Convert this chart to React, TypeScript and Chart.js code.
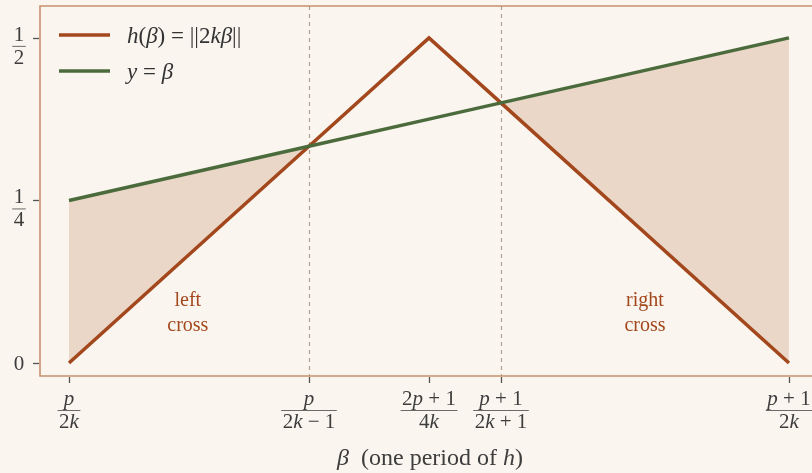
import { useEffect, useRef } from "react";
import { Chart, registerables } from "chart.js";

Chart.register(...registerables);

// β positions (one period normalised to [0, 1]) where the curves have vertices or cross
const BETA = [0, 0.3333, 0.5, 0.6, 1];
// h(β) = ||2kβ|| : tent rising to 1/2 at the midpoint
const H_VALUES = [0, 0.3333, 0.5, 0.4, 0];
// y = β over the same period
const Y_VALUES = [0.25, 0.3333, 0.375, 0.4, 0.5];

// where the two curves cross (dashed guides)
const CROSS_BETA = [0.3333, 0.6];

// x tick positions and their fraction labels
const X_TICKS = [0, 0.3333, 0.5, 0.6, 1];
const X_TICK_NUM = ["p", "p", "2p+1", "p+1", "p+1"];
const X_TICK_DEN = ["2k", "2k−1", "4k", "2k+1", "2k"];

// y tick positions and labels
const Y_TICKS = [0, 0.25, 0.5];
const Y_TICK_NUM = ["0", "1", "1"];
const Y_TICK_DEN = ["", "4", "2"];

const C_BG = "#faf5ef";
const C_RED = "#a3471d";
const C_GREEN = "#4b6b3c";
const C_FILL = "#ead7c8";
const C_FRAME = "#c8916d";
const C_GUIDE = "#b09e8e";
const C_TEXT = "#3d3d3d";
const SERIF = '"Liberation Serif", "DejaVu Serif", serif';

type Part = [string, boolean];

function parse(s: string): Part[] {
  const parts: Part[] = [];
  for (const ch of s) {
    if (/[a-zβ]/.test(ch)) parts.push([ch, true]);
    else if (ch === "+" || ch === "−" || ch === "=") parts.push([" " + ch + " ", false]);
    else parts.push([ch, false]);
  }
  return parts;
}

function font(size: number, italic: boolean) {
  return `${italic ? "italic " : ""}${size}px ${SERIF}`;
}

function widthOf(ctx: CanvasRenderingContext2D, parts: Part[], size: number) {
  let w = 0;
  for (const [t, it] of parts) {
    ctx.font = font(size, it);
    w += ctx.measureText(t).width;
  }
  return w;
}

function drawParts(ctx: CanvasRenderingContext2D, parts: Part[], x: number, y: number, size: number, color: string) {
  ctx.fillStyle = color;
  ctx.textAlign = "left";
  ctx.textBaseline = "alphabetic";
  let cx = x;
  for (const [t, it] of parts) {
    ctx.font = font(size, it);
    ctx.fillText(t, cx, y);
    cx += ctx.measureText(t).width;
  }
  return cx;
}

function drawCentered(ctx: CanvasRenderingContext2D, parts: Part[], cx: number, y: number, size: number, color: string) {
  const w = widthOf(ctx, parts, size);
  drawParts(ctx, parts, cx - w / 2, y, size, color);
}

function drawFrac(ctx: CanvasRenderingContext2D, num: string, den: string, cx: number, barY: number, size: number) {
  const n = parse(num);
  const d = parse(den);
  const w = Math.max(widthOf(ctx, n, size), widthOf(ctx, d, size)) + 3;
  drawCentered(ctx, n, cx, barY - 5, size, C_TEXT);
  drawCentered(ctx, d, cx, barY + 18, size, C_TEXT);
  ctx.strokeStyle = "#6a6a6a";
  ctx.lineWidth = 1;
  ctx.beginPath();
  ctx.moveTo(cx - w / 2, barY + 0.5);
  ctx.lineTo(cx + w / 2, barY + 0.5);
  ctx.stroke();
}

const decor = {
  id: "decor",
  beforeDraw(chart: any) {
    const ctx = chart.ctx as CanvasRenderingContext2D;
    ctx.save();
    ctx.fillStyle = C_BG;
    ctx.fillRect(0, 0, chart.width, chart.height);
    ctx.restore();
  },
  beforeDatasetsDraw(chart: any) {
    const ctx = chart.ctx as CanvasRenderingContext2D;
    const { top, bottom } = chart.chartArea;
    const xs = chart.scales.x;
    ctx.save();
    ctx.strokeStyle = C_GUIDE;
    ctx.lineWidth = 1.2;
    ctx.setLineDash([4, 4]);
    for (const b of CROSS_BETA) {
      const px = Math.round(xs.getPixelForValue(b)) + 0.5;
      ctx.beginPath();
      ctx.moveTo(px, top);
      ctx.lineTo(px, bottom);
      ctx.stroke();
    }
    ctx.restore();
  },
  afterDraw(chart: any) {
    const ctx = chart.ctx as CanvasRenderingContext2D;
    const { left, top, right, bottom } = chart.chartArea;
    const xs = chart.scales.x;
    const ys = chart.scales.y;
    ctx.save();

    // frame: left, top and bottom spines
    ctx.strokeStyle = C_FRAME;
    ctx.lineWidth = 1.6;
    ctx.beginPath();
    ctx.moveTo(right, top);
    ctx.lineTo(left, top);
    ctx.lineTo(left, bottom);
    ctx.lineTo(right, bottom);
    ctx.stroke();

    // tick marks
    ctx.strokeStyle = "#555";
    ctx.lineWidth = 1.3;
    for (const v of X_TICKS) {
      const px = Math.round(xs.getPixelForValue(v)) + 0.5;
      ctx.beginPath();
      ctx.moveTo(px, bottom + 1);
      ctx.lineTo(px, bottom + 7);
      ctx.stroke();
    }
    for (const v of Y_TICKS) {
      const py = Math.round(ys.getPixelForValue(v)) + 0.5;
      ctx.beginPath();
      ctx.moveTo(left - 7, py);
      ctx.lineTo(left - 1, py);
      ctx.stroke();
    }

    // x tick labels
    X_TICKS.forEach((v, i) => {
      const px = xs.getPixelForValue(v);
      drawFrac(ctx, X_TICK_NUM[i], X_TICK_DEN[i], px, bottom + 34, 21);
    });

    // y tick labels
    Y_TICKS.forEach((v, i) => {
      const py = ys.getPixelForValue(v);
      if (Y_TICK_DEN[i]) {
        drawFrac(ctx, Y_TICK_NUM[i], Y_TICK_DEN[i], 19, py + 8, 21);
      } else {
        drawCentered(ctx, parse(Y_TICK_NUM[i]), 19, py + 7, 21, C_TEXT);
      }
    });

    // x axis title
    drawCentered(
      ctx,
      [["β", true], ["  (one period of ", false], ["h", true], [")", false]],
      430,
      465,
      24,
      C_TEXT
    );

    // legend
    ctx.lineWidth = 3.5;
    ctx.strokeStyle = C_RED;
    ctx.beginPath();
    ctx.moveTo(59, 35);
    ctx.lineTo(110, 35);
    ctx.stroke();
    ctx.strokeStyle = C_GREEN;
    ctx.beginPath();
    ctx.moveTo(59, 71);
    ctx.lineTo(110, 71);
    ctx.stroke();
    drawParts(
      ctx,
      [["h", true], ["(", false], ["β", true], [") = ||2", false], ["kβ", true], ["||", false]],
      127,
      43,
      23,
      "#333"
    );
    drawParts(ctx, [["y", true], [" = ", false], ["β", true]], 127, 79, 23, "#333");

    // region annotations
    const lx = xs.getPixelForValue(0.165);
    const rx = xs.getPixelForValue(0.8);
    for (const [cx, w1] of [[lx, "left"], [rx, "right"]] as [number, string][]) {
      drawCentered(ctx, [[w1, false]], cx, 306, 20, C_RED);
      drawCentered(ctx, [["cross", false]], cx, 331, 20, C_RED);
    }

    ctx.restore();
  },
};

export default function App() {
  const ref = useRef<HTMLCanvasElement>(null);

  useEffect(() => {
    if (!ref.current) return;
    document.body.style.margin = "0";
    document.body.style.background = C_BG;
    const toXY = (ys: number[]) => BETA.map((b, i) => ({ x: b, y: ys[i] }));
    const chart = new Chart(ref.current, {
      type: "line",
      data: {
        datasets: [
          {
            label: "y = β",
            data: toXY(Y_VALUES),
            borderColor: C_GREEN,
            borderWidth: 3.5,
            pointRadius: 0,
            tension: 0,
            fill: { target: 1, above: C_FILL, below: "rgba(0,0,0,0)" },
          },
          {
            label: "h(β) = ‖2kβ‖",
            data: toXY(H_VALUES),
            borderColor: C_RED,
            borderWidth: 3.5,
            borderJoinStyle: "miter",
            pointRadius: 0,
            tension: 0,
            fill: false,
          },
        ],
      },
      options: {
        animation: false,
        responsive: false,
        events: [],
        layout: { padding: { left: 40, top: 6, right: 0, bottom: 97 } },
        scales: {
          x: { type: "linear", min: -0.0403, max: 1.032, display: false },
          y: { type: "linear", min: -0.02, max: 0.549, display: false },
        },
        plugins: {
          legend: { display: false },
          tooltip: { enabled: false },
          filler: { drawTime: "beforeDatasetsDraw" },
        },
      } as any,
      plugins: [decor],
    });
    return () => chart.destroy();
  }, []);

  return (
    <div style={{ position: "fixed", left: 0, top: 0, width: 812, height: 473, background: C_BG }}>
      <canvas ref={ref} width={812} height={473} style={{ display: "block" }} />
    </div>
  );
}
